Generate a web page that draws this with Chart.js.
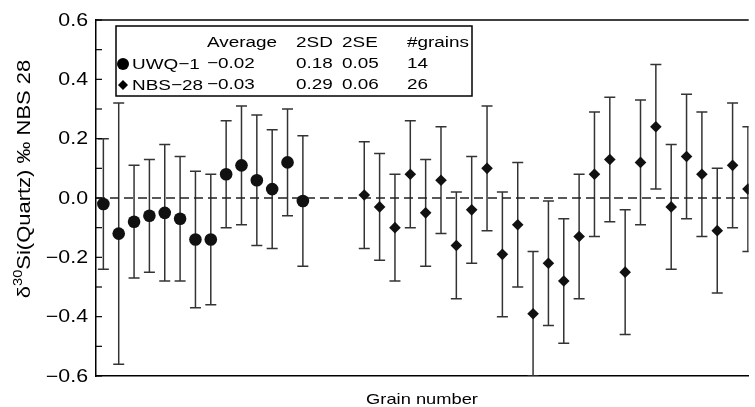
<!DOCTYPE html>
<html>
<head>
<meta charset="utf-8">
<script src="https://cdn.jsdelivr.net/npm/chart.js@4.4.1/dist/chart.umd.min.js"></script>
<style>
  html, body { margin: 0; padding: 0; background: #fff; }
  #wrap { width: 755px; height: 407px; }
</style>
</head>
<body>
<div id="wrap"><canvas id="myChart" width="755" height="407"></canvas></div>
<script>
// grain numbers and d30Si values (per mil vs NBS 28)
var uwqGrain = [1, 2, 3, 4, 5, 6, 7, 8, 9, 10, 11, 12, 13, 14];
var uwqMean = [-0.02, -0.12, -0.08, -0.06, -0.05, -0.07, -0.14, -0.14, 0.08, 0.11, 0.06, 0.03, 0.12, -0.01];
var uwqLow  = [-0.24, -0.56, -0.27, -0.25, -0.28, -0.28, -0.37, -0.36, -0.10, -0.09, -0.16, -0.17, -0.06, -0.23];
var uwqHigh = [0.20, 0.32, 0.11, 0.13, 0.18, 0.14, 0.09, 0.08, 0.26, 0.31, 0.28, 0.23, 0.30, 0.21];

var nbsGrain = [18, 19, 20, 21, 22, 23, 24, 25, 26, 27, 28, 29, 30, 31, 32, 33, 34, 35, 36, 37, 38, 39, 40, 41, 42, 43];
var nbsMean = [0.01, -0.03, -0.10, 0.08, -0.05, 0.06, -0.16, -0.04, 0.10, -0.19, -0.09, -0.39, -0.22, -0.28, -0.13, 0.08, 0.13, -0.25, 0.12, 0.24, -0.03, 0.14, 0.08, -0.11, 0.11, 0.03];
var nbsLow  = [-0.17, -0.21, -0.28, -0.10, -0.23, -0.12, -0.34, -0.22, -0.11, -0.40, -0.30, -0.60, -0.43, -0.49, -0.34, -0.13, -0.08, -0.46, -0.09, 0.03, -0.24, -0.07, -0.13, -0.32, -0.10, -0.18];
var nbsHigh = [0.19, 0.15, 0.08, 0.26, 0.13, 0.24, 0.02, 0.14, 0.31, 0.02, 0.12, -0.18, -0.01, -0.07, 0.08, 0.29, 0.34, -0.04, 0.33, 0.45, 0.18, 0.35, 0.29, 0.10, 0.32, 0.24];

// legend table
var legendHead = ["Average", "2SD", "2SE", "#grains"];
var legendRows = [
  ["UWQ\u22121", "\u22120.02", "0.18", "0.05", "14"],
  ["NBS\u221228", "\u22120.03", "0.29", "0.06", "26"]
];

var yTickLabels = ["\u22120.6", "\u22120.4", "\u22120.2", "0.0", "0.2", "0.4", "0.6"];

var FONT = '"Liberation Sans", Arial, Helvetica, sans-serif';
var SX = 1.22; // the type in the figure is wide

function wideText(ctx, txt, x, y, align) {
  ctx.save();
  ctx.translate(x, y);
  ctx.scale(SX, 1);
  ctx.textAlign = align || "left";
  ctx.fillText(txt, 0, 0);
  ctx.restore();
}

function toPts(xs, ys) {
  return xs.map(function (x, i) { return { x: x, y: ys[i] }; });
}

var errorBars = {
  id: "errorBars",
  beforeDatasetsDraw: function (chart) {
    var ctx = chart.ctx, xs = chart.scales.x, ys = chart.scales.y;
    var sets = [[uwqGrain, uwqLow, uwqHigh], [nbsGrain, nbsLow, nbsHigh]];
    ctx.save();
    ctx.beginPath();
    ctx.rect(chart.chartArea.left, chart.chartArea.top, chart.chartArea.width, chart.chartArea.height);
    ctx.clip();
    ctx.strokeStyle = "#333";
    ctx.lineWidth = 1.5;
    sets.forEach(function (s) {
      s[0].forEach(function (g, i) {
        var px = xs.getPixelForValue(g);
        var lo = ys.getPixelForValue(s[1][i]);
        var hi = ys.getPixelForValue(s[2][i]);
        ctx.beginPath();
        ctx.moveTo(px, lo); ctx.lineTo(px, hi);
        ctx.moveTo(px - 5.5, lo); ctx.lineTo(px + 5.5, lo);
        ctx.moveTo(px - 5.5, hi); ctx.lineTo(px + 5.5, hi);
        ctx.stroke();
      });
    });
    ctx.restore();
  }
};

var decor = {
  id: "decor",
  afterDraw: function (chart) {
    var ctx = chart.ctx, a = chart.chartArea, ys = chart.scales.y;
    ctx.save();
    ctx.strokeStyle = "#000";
    ctx.fillStyle = "#000";
    ctx.lineWidth = 1.5;
    // top frame line
    ctx.beginPath();
    ctx.moveTo(a.left, a.top); ctx.lineTo(a.right, a.top);
    ctx.stroke();
    // inward ticks on y axis
    ctx.lineWidth = 1.2;
    ys.ticks.forEach(function (t) {
      var py = ys.getPixelForValue(t.value);
      ctx.beginPath();
      ctx.moveTo(a.left, py); ctx.lineTo(a.left + 6, py);
      ctx.stroke();
    });
    // y tick labels
    ctx.font = "17.5px " + FONT;
    ctx.textBaseline = "middle";
    yTickLabels.forEach(function (lab, i) {
      var v = -0.6 + 0.2 * i;
      wideText(ctx, lab, 88, ys.getPixelForValue(v) + 1, "right");
    });
    // x title
    ctx.font = "15px " + FONT;
    wideText(ctx, "Grain number", 422, 400, "center");
    // y title with superscript
    ctx.save();
    ctx.translate(25, 179);
    ctx.rotate(-Math.PI / 2);
    ctx.scale(SX, 1);
    var big = "18px " + FONT, small = "12px " + FONT;
    ctx.font = big; var w1 = ctx.measureText("\u03b4").width;
    ctx.font = small; var w2 = ctx.measureText("30").width;
    ctx.font = big; var w3 = ctx.measureText("Si(Quartz) \u2030 NBS 28").width;
    var x0 = -(w1 + w2 + w3) / 2;
    ctx.textAlign = "left";
    ctx.textBaseline = "middle";
    ctx.font = big; ctx.fillText("\u03b4", x0, 0);
    ctx.font = small; ctx.fillText("30", x0 + w1, -6);
    ctx.font = big; ctx.fillText("Si(Quartz) \u2030 NBS 28", x0 + w1 + w2, 0);
    ctx.restore();

    // legend box
    ctx.fillStyle = "#fff";
    ctx.fillRect(116, 26, 356, 70);
    ctx.lineWidth = 1.5;
    ctx.strokeRect(116, 26, 356, 70);
    ctx.fillStyle = "#000";
    ctx.font = "15.5px " + FONT;
    ctx.textBaseline = "middle";
    var colX = [207, 296, 342, 407];
    var rowY = [43, 64, 85];
    legendHead.forEach(function (h, i) { wideText(ctx, h, colX[i], rowY[0], "left"); });
    legendRows.forEach(function (r, j) {
      wideText(ctx, r[0], 132, rowY[j + 1] + 1, "left");
      for (var k = 1; k < r.length; k++) wideText(ctx, r[k], colX[k - 1], rowY[j + 1], "left");
    });
    // legend markers
    ctx.beginPath();
    ctx.arc(123, rowY[1], 6, 0, Math.PI * 2);
    ctx.fill();
    ctx.beginPath();
    ctx.moveTo(123, rowY[2] - 5); ctx.lineTo(128, rowY[2]);
    ctx.lineTo(123, rowY[2] + 5); ctx.lineTo(118, rowY[2]);
    ctx.closePath();
    ctx.fill();
    ctx.restore();
  }
};

new Chart("myChart", {
  type: "scatter",
  data: {
    datasets: [{
      label: "UWQ-1",
      data: toPts(uwqGrain, uwqMean),
      pointStyle: "circle",
      pointRadius: 6.3,
      pointBorderWidth: 0,
      backgroundColor: "#111",
      order: 1
    }, {
      label: "NBS-28",
      data: toPts(nbsGrain, nbsMean),
      pointStyle: "rectRot",
      pointRadius: 5.8,
      pointBorderWidth: 0,
      backgroundColor: "#111",
      order: 1
    }, {
      type: "line",
      label: "zero",
      data: [{ x: 0.52, y: 0 }, { x: 43.05, y: 0 }],
      borderColor: "#222",
      borderWidth: 1.4,
      borderDash: [9, 5],
      pointRadius: 0,
      order: 3
    }]
  },
  options: {
    responsive: false,
    animation: false,
    devicePixelRatio: 1,
    layout: { padding: { top: 20, left: 0, right: 0, bottom: 0 } },
    plugins: {
      legend: { display: false },
      tooltip: { enabled: false }
    },
    scales: {
      x: {
        type: "linear",
        min: 0.52,
        max: 43.05,
        ticks: { display: false },
        grid: { display: false },
        border: { display: true, color: "#000", width: 1.5 },
        afterFit: function (s) { s.height = 31; }
      },
      y: {
        min: -0.6,
        max: 0.6,
        ticks: { display: false, stepSize: 0.1 },
        grid: { display: false },
        border: { display: true, color: "#000", width: 1.5 },
        afterFit: function (s) { s.width = 96; }
      }
    }
  },
  plugins: [errorBars, decor]
});
</script>
</body>
</html>
